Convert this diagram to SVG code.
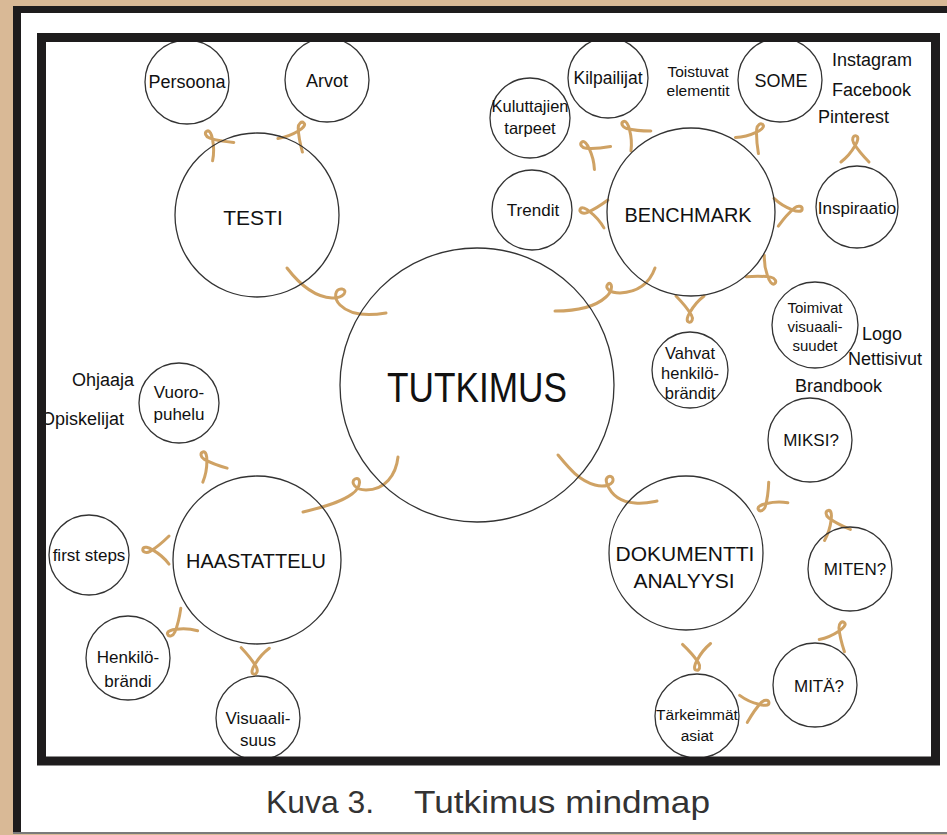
<svg xmlns="http://www.w3.org/2000/svg" xmlns:xlink="http://www.w3.org/1999/xlink" width="947" height="835" viewBox="0 0 947 835">
<style>
.node{fill:none;stroke:#333;stroke-width:1.3}
.conn{fill:none;stroke:#cfa264;stroke-width:3;stroke-linecap:round;stroke-linejoin:round}
text{font-family:"Liberation Sans",Arial,sans-serif;fill:#111;text-anchor:middle}
.s14{font-size:15px}.s15{font-size:15.5px}.s16{font-size:16.5px}.s17{font-size:17px}.s18{font-size:18px}.s21{font-size:21px}
.free{text-anchor:start}
.cap{font-size:32px;fill:#333;text-anchor:start}
</style>
<defs>
<path id="yc" class="conn" d="M-13,-15 C-7,-8 -2,-1 1,5 C3,9 1,13 -2,12 C-5,11 -3,6 0,2 C4,-4 9,-9 15,-13"/>
</defs>
<rect x="0" y="0" width="947" height="835" fill="#d9b996"/>
<rect x="13" y="6" width="940" height="826" fill="#fff"/>
<rect x="13" y="6" width="940" height="7" fill="#1e1c1d"/>
<rect x="13" y="6" width="8" height="826" fill="#1e1c1d"/>
<rect x="13" y="832" width="940" height="2" fill="#7a7a7a"/>

<g id="connectors">
<path class="conn" d="M287,268 C300,285 315,297 332,298 C345,298 348,290 342,289 C335,288 333,298 340,305 C350,315 368,316 386,313"/>
<path class="conn" d="M655,268 C650,282 640,292 620,293 C610,293 604,288 608,284 C612,281 614,290 606,297 C595,307 575,311 555,311"/>
<path class="conn" d="M398,457 C396,475 385,490 366,490 C355,490 350,482 355,479 C361,476 362,487 352,494 C340,503 320,508 303,512"/>
<path class="conn" d="M558,455 C568,467 578,480 595,485 C605,488 614,484 613,479 C612,474 604,476 607,484 C611,494 620,502 635,503 C645,504 652,502 657,501"/>
<use xlink:href="#yc" transform="translate(214,141) rotate(135)"/>
<use xlink:href="#yc" transform="translate(297,133) rotate(205)"/>
<use xlink:href="#yc" transform="translate(631,131) rotate(131)"/>
<use xlink:href="#yc" transform="translate(591,150) rotate(121)"/>
<use xlink:href="#yc" transform="translate(592,212) rotate(94)"/>
<use xlink:href="#yc" transform="translate(755,134) rotate(211)"/>
<use xlink:href="#yc" transform="translate(790,210) rotate(257)"/>
<use xlink:href="#yc" transform="translate(855,148) rotate(176)"/>
<use xlink:href="#yc" transform="translate(766,275) rotate(-54)"/>
<use xlink:href="#yc" transform="translate(690,310) rotate(-4)"/>
<use xlink:href="#yc" transform="translate(768,502) rotate(43)"/>
<use xlink:href="#yc" transform="translate(832,522) rotate(153)"/>
<use xlink:href="#yc" transform="translate(838,633) rotate(202)"/>
<use xlink:href="#yc" transform="translate(757,705) rotate(250)"/>
<use xlink:href="#yc" transform="translate(697,658) rotate(-6)"/>
<use xlink:href="#yc" transform="translate(208,463) rotate(146)"/>
<use xlink:href="#yc" transform="translate(155,550) rotate(86)"/>
<use xlink:href="#yc" transform="translate(178,628) rotate(49)"/>
<use xlink:href="#yc" transform="translate(255,662) rotate(-3)"/>
</g>

<g id="tutkimus"><circle class="node" cx="477" cy="385" r="137"/><text x="477" y="402" style="font-size:42px" textLength="180" lengthAdjust="spacingAndGlyphs">TUTKIMUS</text></g>

<g id="testi"><circle class="node" cx="257" cy="215" r="82"/><text class="s21" x="253" y="225">TESTI</text></g>
<g id="persoona"><circle class="node" cx="187" cy="82" r="42"/><text class="s18" x="187" y="88">Persoona</text></g>
<g id="arvot"><circle class="node" cx="327" cy="80" r="42"/><text class="s18" x="327" y="87">Arvot</text></g>

<g id="benchmark"><circle class="node" cx="691" cy="212" r="84"/><text class="s21" x="688" y="222" textLength="127" lengthAdjust="spacingAndGlyphs">BENCHMARK</text></g>
<g id="kilpailijat"><circle class="node" cx="608" cy="78" r="40"/><text style="font-size:17.5px" x="608" y="84">Kilpailijat</text></g>
<g id="kuluttajien"><circle class="node" cx="530" cy="118" r="40"/><text class="s16" x="530" y="112">Kuluttajien</text><text class="s16" x="530" y="134">tarpeet</text></g>
<g id="trendit"><circle class="node" cx="532" cy="210" r="40"/><text class="s17" x="533" y="216">Trendit</text></g>
<g id="toistuvat"><text class="s15" x="698" y="77">Toistuvat</text><text class="s15" x="698" y="96">elementit</text></g>
<g id="some"><circle class="node" cx="780" cy="80" r="42"/><text class="s18" x="781" y="87">SOME</text></g>
<g id="somelist"><text class="s18 free" x="832" y="66">Instagram</text><text class="s18 free" x="832" y="96">Facebook</text><text class="s18 free" x="818" y="123">Pinterest</text></g>
<g id="inspiraatio"><circle class="node" cx="857" cy="207" r="41"/><text class="s17" x="857" y="214">Inspiraatio</text></g>
<g id="toimivat"><circle class="node" cx="815" cy="325" r="43"/><text class="s14" x="815" y="313">Toimivat</text><text class="s14" x="815" y="332">visuaali-</text><text class="s14" x="815" y="351">suudet</text></g>
<g id="visuallist"><text class="s18 free" x="862" y="340">Logo</text><text class="s18 free" x="848" y="365">Nettisivut</text><text class="s18 free" x="795" y="392">Brandbook</text></g>
<g id="vahvat"><circle class="node" cx="690" cy="370" r="38"/><text class="s16" x="690" y="359">Vahvat</text><text class="s16" x="690" y="379">henkilö-</text><text class="s16" x="690" y="399">brändit</text></g>

<g id="dokumentti"><circle class="node" cx="686" cy="553" r="77"/><text class="s21" x="685" y="561">DOKUMENTTI</text><text class="s21" x="684" y="588">ANALYYSI</text></g>
<g id="miksi"><circle class="node" cx="810" cy="440" r="42"/><text class="s17" x="811" y="446">MIKSI?</text></g>
<g id="miten"><circle class="node" cx="850" cy="569" r="42"/><text class="s17" x="855" y="575">MITEN?</text></g>
<g id="mita"><circle class="node" cx="815" cy="685" r="42"/><text class="s17" x="819" y="692">MITÄ?</text></g>
<g id="tarkeimmat"><circle class="node" cx="697" cy="716" r="42"/><text class="s15" x="697" y="720">Tärkeimmät</text><text class="s15" x="697" y="741">asiat</text></g>

<g id="haastattelu"><circle class="node" cx="257" cy="560" r="84"/><text class="s21" x="256" y="568" textLength="140" lengthAdjust="spacingAndGlyphs">HAASTATTELU</text></g>
<g id="vuoropuhelu"><circle class="node" cx="179" cy="403" r="40"/><text class="s17" x="179" y="398">Vuoro-</text><text class="s17" x="179" y="420">puhelu</text></g>
<g id="puhelulist"><text class="s18 free" x="72" y="386">Ohjaaja</text><text class="s18 free" x="41" y="425">Opiskelijat</text></g>
<g id="firststeps"><circle class="node" cx="89" cy="555" r="40"/><text class="s17" x="89" y="561">first steps</text></g>
<g id="henkilobrandi"><circle class="node" cx="128" cy="658" r="42"/><text class="s17" x="128" y="663">Henkilö-</text><text class="s17" x="128" y="687">brändi</text></g>
<g id="visuaalisuus"><circle class="node" cx="258" cy="718" r="42"/><text class="s17" x="258" y="724">Visuaali-</text><text class="s17" x="258" y="746">suus</text></g>

<rect x="41.5" y="37.5" width="894" height="723.5" fill="none" stroke="#1e1c1d" stroke-width="9"/>

<g id="caption"><text class="cap" x="266" y="813" textLength="108" lengthAdjust="spacingAndGlyphs">Kuva 3.</text><text class="cap" x="414" y="813" textLength="296" lengthAdjust="spacingAndGlyphs">Tutkimus mindmap</text></g>
</svg>
